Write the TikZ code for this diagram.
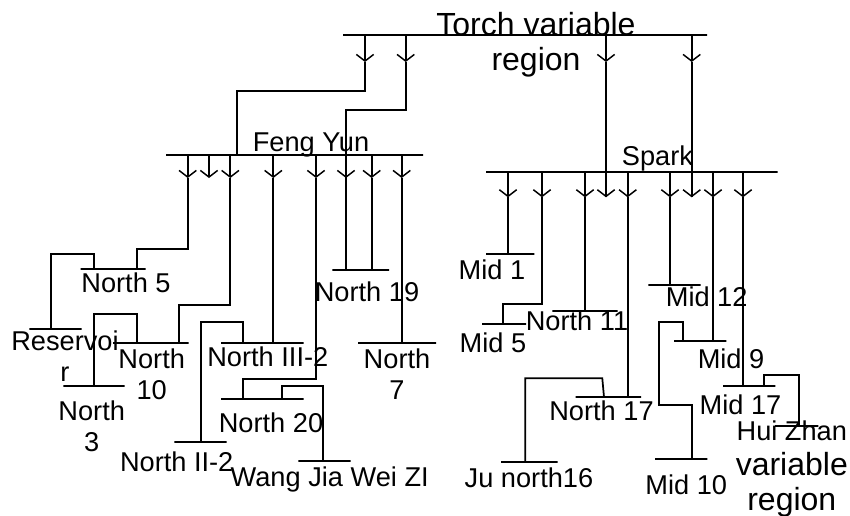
\documentclass[tikz,border=0pt]{standalone}
\usepackage{fontspec}
\setmainfont{Liberation Sans}
\usetikzlibrary{arrows.meta}
\tikzset{
  ln/.style={line width=1.3pt,black,line join=miter},
  busbar/.style={draw=black,line width=1.3pt,shape=rectangle,inner sep=0pt,outer sep=0pt,minimum height=0pt},
  lab/.style={inner sep=0pt,outer sep=0pt,anchor=base,align=center,font=\fontsize{20.4}{23.25}\selectfont},
  biglab/.style={inner sep=0pt,outer sep=0pt,anchor=base,align=center,font=\fontsize{24}{26}\selectfont},
  tipped/.style={ln,-{Straight Barb[length=5pt,width=13pt,line width=1.1pt]}}
}
\newcommand{\busbar}[4]{\node[busbar,minimum width={(#3-#2)*0.75pt}] (#1) at ({(#2+#3)/2},#4) {};}
\newcommand{\feeder}[3]{\draw[tipped] (#2,0 |- #1) -- (#2,#3);}
\begin{document}
\begin{tikzpicture}[x=0.75pt,y=-0.75pt]
\useasboundingbox (0,0) rectangle (850,515);
% bus bars
\busbar{torch}{343}{707}{35}
\busbar{fy}{166}{423}{155.3}
\busbar{spark}{486}{777.7}{172.3}
\busbar{nfive}{80.7}{145.7}{268.7}
\busbar{res}{29.3}{81.7}{329.3}
\busbar{nten}{113}{188.7}{342.7}
\busbar{nthree}{63.3}{124.7}{385.7}
\busbar{nthreetwo}{221}{303.7}{342.7}
\busbar{ntwotwo}{174.3}{226.7}{442}
\busbar{ntwenty}{221}{303.7}{399}
\busbar{wang}{298.3}{350.7}{460.7}
\busbar{nnineteen}{332.3}{389}{269.7}
\busbar{nseven}{358}{436}{342.7}
\busbar{mone}{486}{534.3}{254.3}
\busbar{mfive}{482}{526}{324}
\busbar{neleven}{552.3}{617.7}{311.3}
\busbar{nseventeen}{575.7}{641}{397}
\busbar{ju}{501}{557.7}{462.3}
\busbar{mtwelve}{648.3}{700.7}{284.7}
\busbar{mnine}{674}{726.3}{341}
\busbar{mten}{655}{707.3}{458.7}
\busbar{mseventeen}{723}{775.3}{385.7}
\busbar{hui}{775}{818.3}{426.3}
% torch feeders
\feeder{torch}{365}{62}
\feeder{torch}{405.7}{62}
\feeder{torch}{606}{62}
\feeder{torch}{691.7}{62}
\draw[ln] (365,62) -- (365,91) -- (236.7,91) -- (236.7,0 |- fy);
\draw[ln] (405.7,62) -- (405.7,110) -- (346,110) -- (346,178);
\draw[ln] (606,62) -- (606,197.3);
\draw[ln] (691.7,62) -- (691.7,197.3);
% Feng Yun feeders
\feeder{fy}{187.7}{178}
\feeder{fy}{209}{178}
\feeder{fy}{230.3}{178}
\feeder{fy}{273.3}{178}
\feeder{fy}{316}{178}
\feeder{fy}{346}{178}
\feeder{fy}{371.7}{178}
\feeder{fy}{401.7}{178}
\draw[ln] (187.7,178) -- (187.7,248.7) -- (136.7,248.7) -- (136.7,0 |- nfive);
\draw[ln] (94,0 |- nfive) -- (94,254.3) -- (51.3,254.3) -- (51.3,0 |- res);
\draw[ln] (230.3,178) -- (230.3,305.3) -- (179.3,305.3) -- (179.3,0 |- nten);
\draw[ln] (136.7,0 |- nten) -- (136.7,314.3) -- (94,314.3) -- (94,0 |- nthree);
\draw[ln] (273.3,178) -- (273.3,0 |- nthreetwo);
\draw[ln] (243.3,0 |- nthreetwo) -- (243.3,322.3) -- (200.7,322.3) -- (200.7,0 |- ntwotwo);
\draw[ln] (316,178) -- (316,379.3) -- (243.3,379.3) -- (243.3,0 |- ntwenty);
\draw[ln] (281.7,0 |- ntwenty) -- (281.7,385.7) -- (323.3,385.7) -- (323.3,0 |- wang);
\draw[ln] (346,178) -- (346,0 |- nnineteen);
\draw[ln] (371.7,178) -- (371.7,0 |- nnineteen);
\draw[ln] (401.7,178) -- (401.7,0 |- nseven);
% Spark feeders
\feeder{spark}{508}{197.3}
\feeder{spark}{542}{197.3}
\feeder{spark}{585}{197.3}
\feeder{spark}{606}{197.3}
\feeder{spark}{627.7}{197.3}
\feeder{spark}{670}{197.3}
\feeder{spark}{691.7}{197.3}
\feeder{spark}{713}{197.3}
\feeder{spark}{743}{197.3}
\draw[ln] (508,197.3) -- (508,0 |- mone);
\draw[ln] (542,197.3) -- (542,303.7) -- (503.3,303.7) -- (503.3,0 |- mfive);
\draw[ln] (585,197.3) -- (585,0 |- neleven);
\draw[ln] (627.7,197.3) -- (627.7,0 |- nseventeen);
\draw[ln] (604,0 |- nseventeen) -- (602.3,378.3) -- (525.3,378.3) -- (525.3,0 |- ju);
\draw[ln] (670,197.3) -- (670,0 |- mtwelve);
\draw[ln] (713,197.3) -- (713,0 |- mnine);
\draw[ln] (683.3,0 |- mnine) -- (683.3,322) -- (658.7,322) -- (658.7,404.7) -- (691.7,404.7) -- (691.7,0 |- mten);
\draw[ln] (743,197.3) -- (743,0 |- mseventeen);
\draw[ln] (764.3,0 |- mseventeen) -- (764.3,374.7) -- (798.7,374.7) -- (798.7,0 |- hui);
% labels (base anchor = last line's baseline)
\node[biglab] (ttorch) at (536,70) {Torch variable\\region};
\node[lab] (tfy) at (311,151.7) {Feng Yun};
\node[lab] (tspark) at (657.5,165) {Spark};
\node[lab] (tnfive) at (126,292.7) {North 5};
\node[lab] (tnnineteen) at (367,301.7) {North 19};
\node[lab] (tres) at (65,381.7) {Reservoi\\r};
\node[lab] (tnten) at (151.7,399) {North\\10};
\node[lab] (tnthree) at (91.7,451) {North\\3};
\node[lab] (tnthreetwo) at (267.8,366.7) {North III-2};
\node[lab] (tnseven) at (397,399) {North\\7};
\node[lab] (tntwenty) at (271,432.7) {North 20};
\node[lab] (tntwotwo) at (176.7,471) {North II-2};
\node[lab] (twang) at (329.7,486.7) {Wang Jia Wei ZI};
\node[lab] (tmone) at (492,279.3) {Mid 1};
\node[lab] (tmfive) at (493,352.7) {Mid 5};
\node[lab] (tneleven) at (577,330.7) {North 11};
\node[lab] (tmtwelve) at (706.7,306) {Mid 12};
\node[lab] (tmnine) at (731,368.7) {Mid 9};
\node[lab] (tnseventeen) at (601.5,420) {North 17};
\node[lab] (tmseventeen) at (740.5,414.3) {Mid 17};
\node[lab] (tju) at (529,487) {Ju north16};
\node[lab] (tmten) at (686.3,494.3) {Mid 10};
\node[biglab] (thui) at (791.8,510) {{\fontsize{20.4}{23.25}\selectfont Hui Zhan}\\variable\\region};
\end{tikzpicture}
\end{document}
